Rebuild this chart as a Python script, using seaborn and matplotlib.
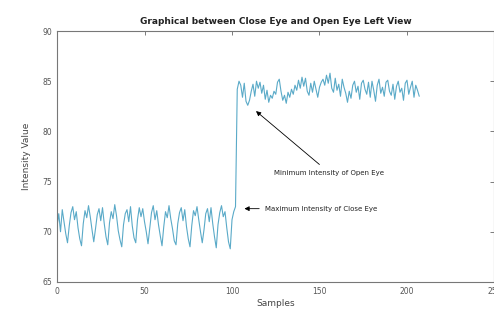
import numpy as np
import matplotlib
matplotlib.use("Agg")
import matplotlib.pyplot as plt
import seaborn as sns

# intensity of left-view eye region, sample by sample
close_eye = [
    70.5, 71.8, 70.0, 72.2, 71.0, 69.8, 68.9, 70.6,
    71.9, 72.5, 71.2, 72.0, 70.4, 69.3, 68.6, 70.8,
    72.1, 71.4, 72.6, 71.5, 70.2, 69.0, 70.3, 71.7,
    72.3, 71.1, 72.4, 70.8, 69.5, 68.7, 70.9, 72.0,
    71.3, 72.7, 71.6, 70.1, 69.2, 68.5, 70.7, 71.8,
    72.2, 71.0, 72.5, 70.6, 69.4, 68.9, 71.2, 72.4,
    71.5, 72.3, 71.0, 70.0, 68.8, 70.4, 71.9, 72.6,
    71.2, 72.1, 70.7, 69.6, 68.6, 70.5, 72.0, 71.4,
    72.6, 71.3, 70.3, 69.1, 68.7, 70.8, 71.9, 72.4,
    71.1, 72.2, 70.5, 69.3, 68.5, 70.6, 72.1, 71.6,
    72.5, 71.2, 70.0, 68.9, 70.2, 71.8, 72.3, 71.0,
    72.4, 70.8, 69.5, 68.4, 70.7, 71.9, 72.6, 71.5,
    72.0, 70.4, 69.0, 68.3, 71.2, 72.0, 72.5,
]
open_eye = [
    84.2, 85.0, 84.6, 83.4, 84.8, 83.0, 82.6, 83.1,
    84.0, 84.7, 83.5, 85.0, 84.3, 84.9, 83.8, 84.6,
    83.2, 84.1, 82.9, 83.6, 83.3, 84.0, 83.7, 84.9,
    85.2, 84.0, 83.1, 83.6, 82.8, 83.9, 83.4, 84.2,
    83.7, 84.6, 84.1, 85.1, 84.3, 85.4, 84.5, 85.3,
    84.0, 83.6, 84.8, 83.9, 85.0, 84.2, 83.4, 84.4,
    84.9, 85.2, 84.6, 85.6, 84.8, 85.8, 84.3, 83.9,
    85.3, 84.1, 84.7, 83.5, 85.2, 84.4, 83.8, 82.9,
    84.0, 83.3, 84.6, 85.0, 83.9, 84.5, 83.2, 84.8,
    85.1, 84.2, 83.7, 84.9, 83.4, 85.0, 84.1, 83.0,
    84.6, 85.2, 83.8, 84.4, 83.5, 84.9, 85.1, 84.0,
    83.6, 84.7, 83.2, 84.5, 85.0, 83.9, 84.3, 83.1,
    84.8, 85.1, 83.7, 84.4, 85.0, 83.4, 84.6, 84.1, 83.5,
]
intensity = np.array(close_eye + open_eye)
samples = np.arange(len(intensity))

x_ticks = [0, 50, 100, 150, 200, 250]
y_ticks = [65, 70, 75, 80, 85, 90]

sns.set_style("white")
plt.rcParams["font.family"] = ["DejaVu Sans"]

fig = plt.figure(figsize=(4.94, 3.2), dpi=100)
ax = fig.add_axes([0.1154, 0.119, 0.8856, 0.784])

sns.lineplot(x=samples, y=intensity, ax=ax, color="#5aaac8", linewidth=0.8)

ax.set_xlim(0, 250)
ax.set_ylim(65, 90)
ax.set_xticks(x_ticks)
ax.set_yticks(y_ticks)
ax.tick_params(direction="in", length=3, width=0.6, labelsize=5.5,
               labelcolor="#555555", color="#666666",
               top=True, right=True)
for s in ax.spines.values():
    s.set_color("#777777")
    s.set_linewidth(0.8)

ax.set_xlabel("Samples", fontsize=6.5, color="#444444", labelpad=2)
ax.set_ylabel("Intensity Value", fontsize=6.5, color="#444444", labelpad=8)
ax.set_title("Graphical between Close Eye and Open Eye Left View",
             fontsize=6.5, fontweight="bold", color="#222222", pad=5)

arrow = dict(arrowstyle="-|>", color="black", lw=0.6, mutation_scale=7)
ax.annotate("Maximum Intensity of Close Eye", xy=(105.5, 72.3),
            xytext=(119, 72.3), fontsize=5, color="#222222",
            va="center", arrowprops=arrow)
ax.annotate("Minimum Intensity of Open Eye", xy=(112.5, 82.2),
            xytext=(124, 75.9), fontsize=5, color="#222222",
            va="center", arrowprops=arrow)

fig.savefig("out.png", dpi=100)
plt.close(fig)
